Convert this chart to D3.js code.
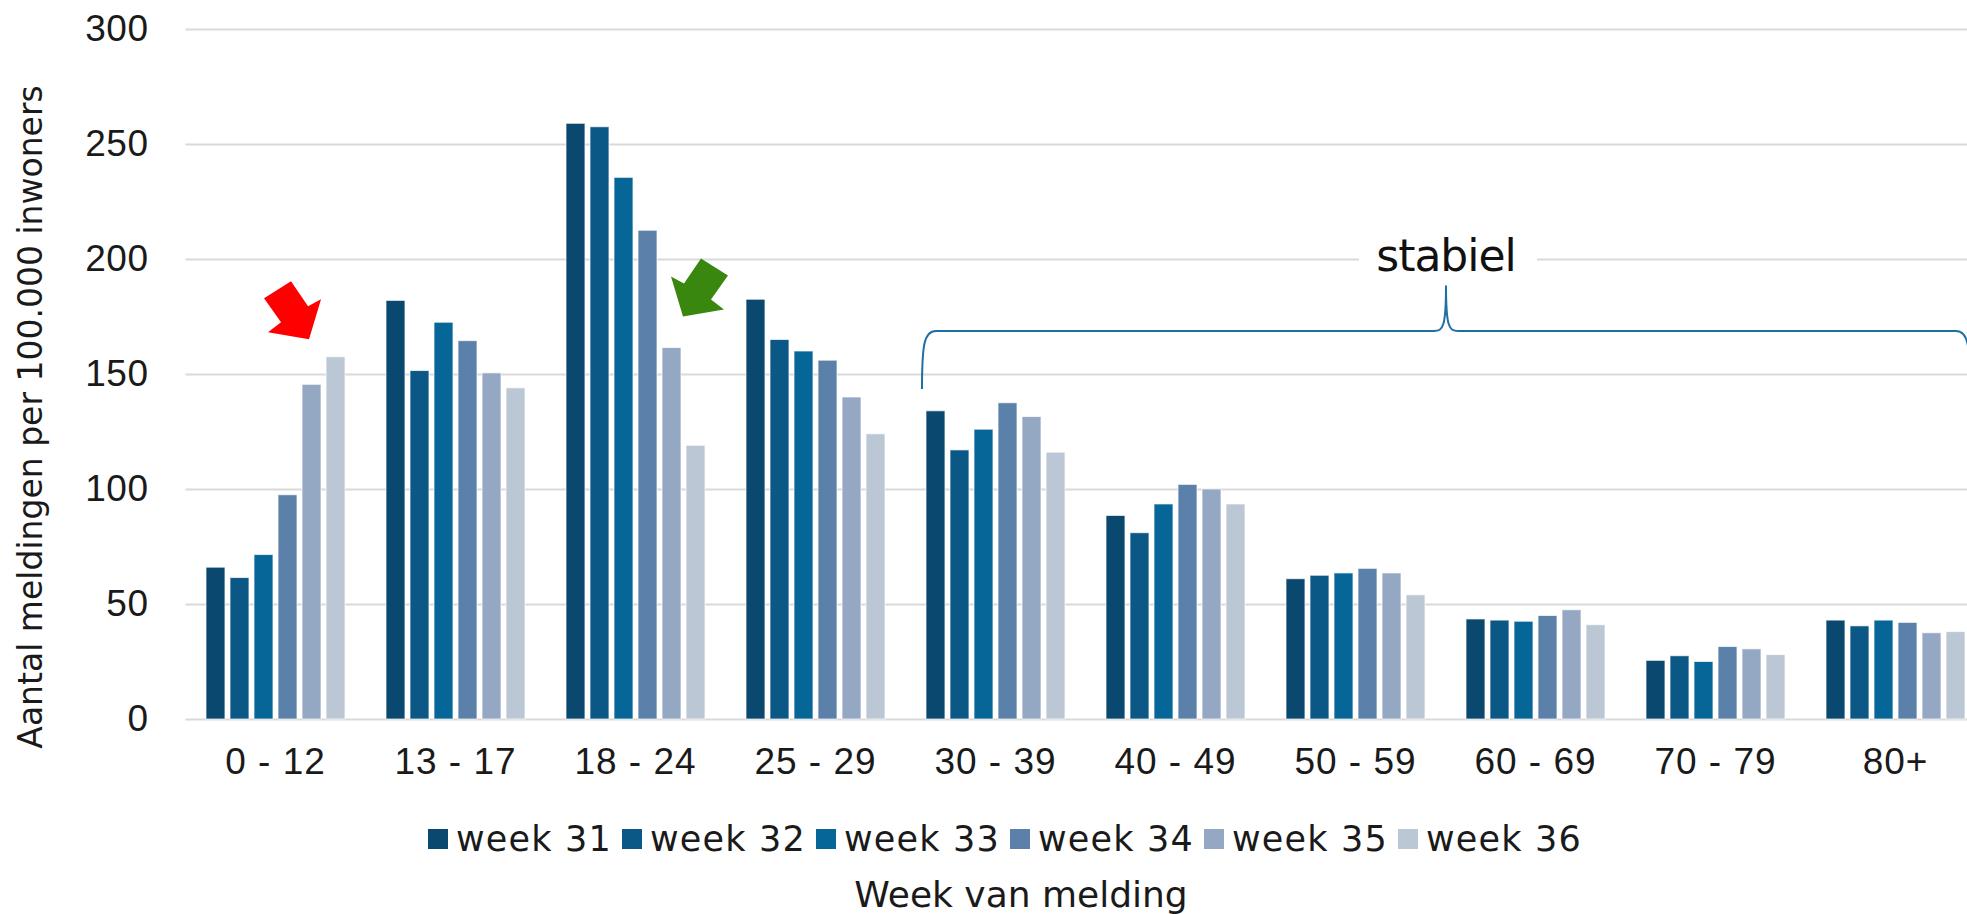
<!DOCTYPE html>
<html>
<head>
<meta charset="utf-8">
<script src="https://cdn.jsdelivr.net/npm/d3@7"></script>
<style>
    body { margin: 0; background: #fff; }
    svg { display: block; font-family: 'DejaVu Sans', Verdana, sans-serif; }
</style>
</head>
<body>
<svg id="chart" width="1967" height="914"></svg>
<script>
// data (meldingen per 100.000 inwoners)
const ageGroups = ['0 - 12', '13 - 17', '18 - 24', '25 - 29', '30 - 39', '40 - 49', '50 - 59', '60 - 69', '70 - 79', '80+'];
const weeks = ['week 31', 'week 32', 'week 33', 'week 34', 'week 35', 'week 36'];
const week31 = [66, 182, 259, 182.5, 134, 88.5, 61, 43.5, 25.5, 43];
const week32 = [61.5, 151.5, 257.5, 165, 117, 81, 62.5, 43, 27.5, 40.5];
const week33 = [71.5, 172.5, 235.5, 160, 126, 93.5, 63.5, 42.5, 25, 43];
const week34 = [97.5, 164.5, 212.5, 156, 137.5, 102, 65.5, 45, 31.5, 42];
const week35 = [145.5, 150.5, 161.5, 140, 131.5, 100, 63.5, 47.5, 30.5, 37.5];
const week36 = [157.5, 144, 119, 124, 116, 93.5, 54, 41, 28, 38];
const yTicks = [0, 50, 100, 150, 200, 250, 300];

const series = [week31, week32, week33, week34, week35, week36];
const colors = ['#0b4870', '#0b5886', '#056697', '#5b81ab', '#95a8c3', '#bcc7d6'];

const svg = d3.select('#chart');
const svgWidth = +svg.attr('width');

const plot = {left: 185.5, top: 29, bottom: 719};
const step = 180;

const yScale = d3.scaleLinear()
    .domain([0, 300])
    .range([plot.bottom, plot.top]);

const xScale = d3.scaleBand()
    .domain(ageGroups)
    .range([plot.left, plot.left + step * ageGroups.length])
    .paddingInner(0.2278)
    .paddingOuter(0.1139);

const xInner = d3.scaleBand()
    .domain(weeks)
    .range([0, xScale.bandwidth()])
    .paddingInner(0.21);

const color = d3.scaleOrdinal()
    .domain(weeks)
    .range(colors);

// grid + y labels
const yAxisG = svg.append('g')
    .attr('transform', `translate(${plot.left}, 0)`)
    .call(d3.axisLeft(yScale)
        .tickValues(yTicks)
        .tickSize(-(svgWidth - plot.left))
        .tickPadding(37));

yAxisG.select('.domain').remove();
yAxisG.selectAll('.tick line')
    .attr('stroke', '#d9d9d9')
    .attr('stroke-width', 2);
yAxisG.selectAll('.tick text')
    .attr('fill', '#1a1a1a')
    .style('font-size', '37px')
    .style('letter-spacing', '0.5px');

// x labels
const xAxisG = svg.append('g')
    .attr('transform', `translate(0, ${plot.bottom})`)
    .call(d3.axisBottom(xScale).tickSize(0).tickPadding(29));

xAxisG.select('.domain').remove();
xAxisG.selectAll('.tick text')
    .attr('fill', '#1a1a1a')
    .style('font-size', '37px')
    .style('letter-spacing', '1px');

// bars
const rows = ageGroups.map((g, i) => ({
    group: g,
    values: weeks.map((w, j) => ({week: w, value: series[j][i]}))
}));

const groupG = svg.selectAll('g.group')
    .data(rows)
    .enter()
    .append('g')
    .attr('class', 'group')
    .attr('transform', d => `translate(${xScale(d.group)}, 0)`);

groupG.selectAll('rect')
    .data(d => d.values)
    .enter()
    .append('rect')
    .attr('x', d => xInner(d.week))
    .attr('y', d => yScale(d.value))
    .attr('width', xInner.bandwidth())
    .attr('height', d => yScale(0) - yScale(d.value))
    .attr('fill', d => color(d.week))
    .attr('stroke', 'rgba(255,255,255,0.7)')
    .attr('stroke-width', 1);

// y title
svg.append('text')
    .attr('transform', `translate(42, 417) rotate(-90)`)
    .attr('text-anchor', 'middle')
    .attr('fill', '#1a1a1a')
    .style('font-size', '33px')
    .text('Aantal meldingen per 100.000 inwoners');

// legend
const legendG = svg.append('g')
    .attr('transform', 'translate(428, 839)');

weeks.forEach((w, i) => {
    legendG.append('rect')
        .attr('x', i * 194)
        .attr('y', -10)
        .attr('width', 20)
        .attr('height', 20)
        .attr('fill', color(w));

    legendG.append('text')
        .attr('x', i * 194 + 28)
        .attr('y', 12)
        .attr('fill', '#1a1a1a')
        .style('font-size', '35px')
        .style('letter-spacing', '1.2px')
        .text(w);
});

svg.append('text')
    .attr('x', 1021)
    .attr('y', 907)
    .attr('text-anchor', 'middle')
    .attr('fill', '#1a1a1a')
    .style('font-size', '36px')
    .text('Week van melding');

// arrows (shape relative to the tip)
const arrowShape = [[-45, -41], [-18, -58], [-1, -33], [12, -40], [0, 0], [-41, -7], [-28, -17]];

function drawArrow(tipX, tipY, fill, mirror) {
    const pts = arrowShape.map(p => [tipX + (mirror ? -p[0] : p[0]), tipY + p[1]]);
    svg.append('path')
        .attr('d', d3.line()(pts) + 'Z')
        .attr('fill', fill);
}

const red = rows[0].values[4];
drawArrow(xScale(rows[0].group) + xInner(red.week) + 7, yScale(red.value) - 45, '#ff0000', false);

const green = rows[2].values[4];
drawArrow(xScale(rows[2].group) + xInner(green.week) + xInner.bandwidth() + 2, yScale(green.value) - 31, '#3a870f', true);

// brace "stabiel"
const bx0 = xScale('30 - 39') - 4;
const bxm = 1446;
const bx1 = 2 * bxm - bx0;
const byLow = yScale(143.5), byMid = yScale(168.7), byTop = yScale(188.5);

const brace = `M${bx0},${byLow} C${bx0},${byMid + 14} ${bx0 + 2},${byMid} ${bx0 + 14},${byMid}
    L${bxm - 12},${byMid} C${bxm - 3},${byMid} ${bxm},${byMid - 4} ${bxm},${byTop}
    C${bxm},${byMid - 4} ${bxm + 3},${byMid} ${bxm + 12},${byMid}
    L${bx1 - 14},${byMid} C${bx1 - 2},${byMid} ${bx1},${byMid + 14} ${bx1},${byLow}`;

svg.append('path')
    .attr('d', brace)
    .attr('fill', 'none')
    .attr('stroke', '#1f6fa3')
    .attr('stroke-width', 2);

svg.append('rect')
    .attr('x', 1359)
    .attr('y', yScale(200) - 24)
    .attr('width', 178)
    .attr('height', 40)
    .attr('fill', '#fff');

svg.append('text')
    .attr('x', bxm)
    .attr('y', 271)
    .attr('text-anchor', 'middle')
    .attr('fill', '#111')
    .style('font-size', '44px')
    .style('letter-spacing', '-1px')
    .text('stabiel');
</script>
</body>
</html>
